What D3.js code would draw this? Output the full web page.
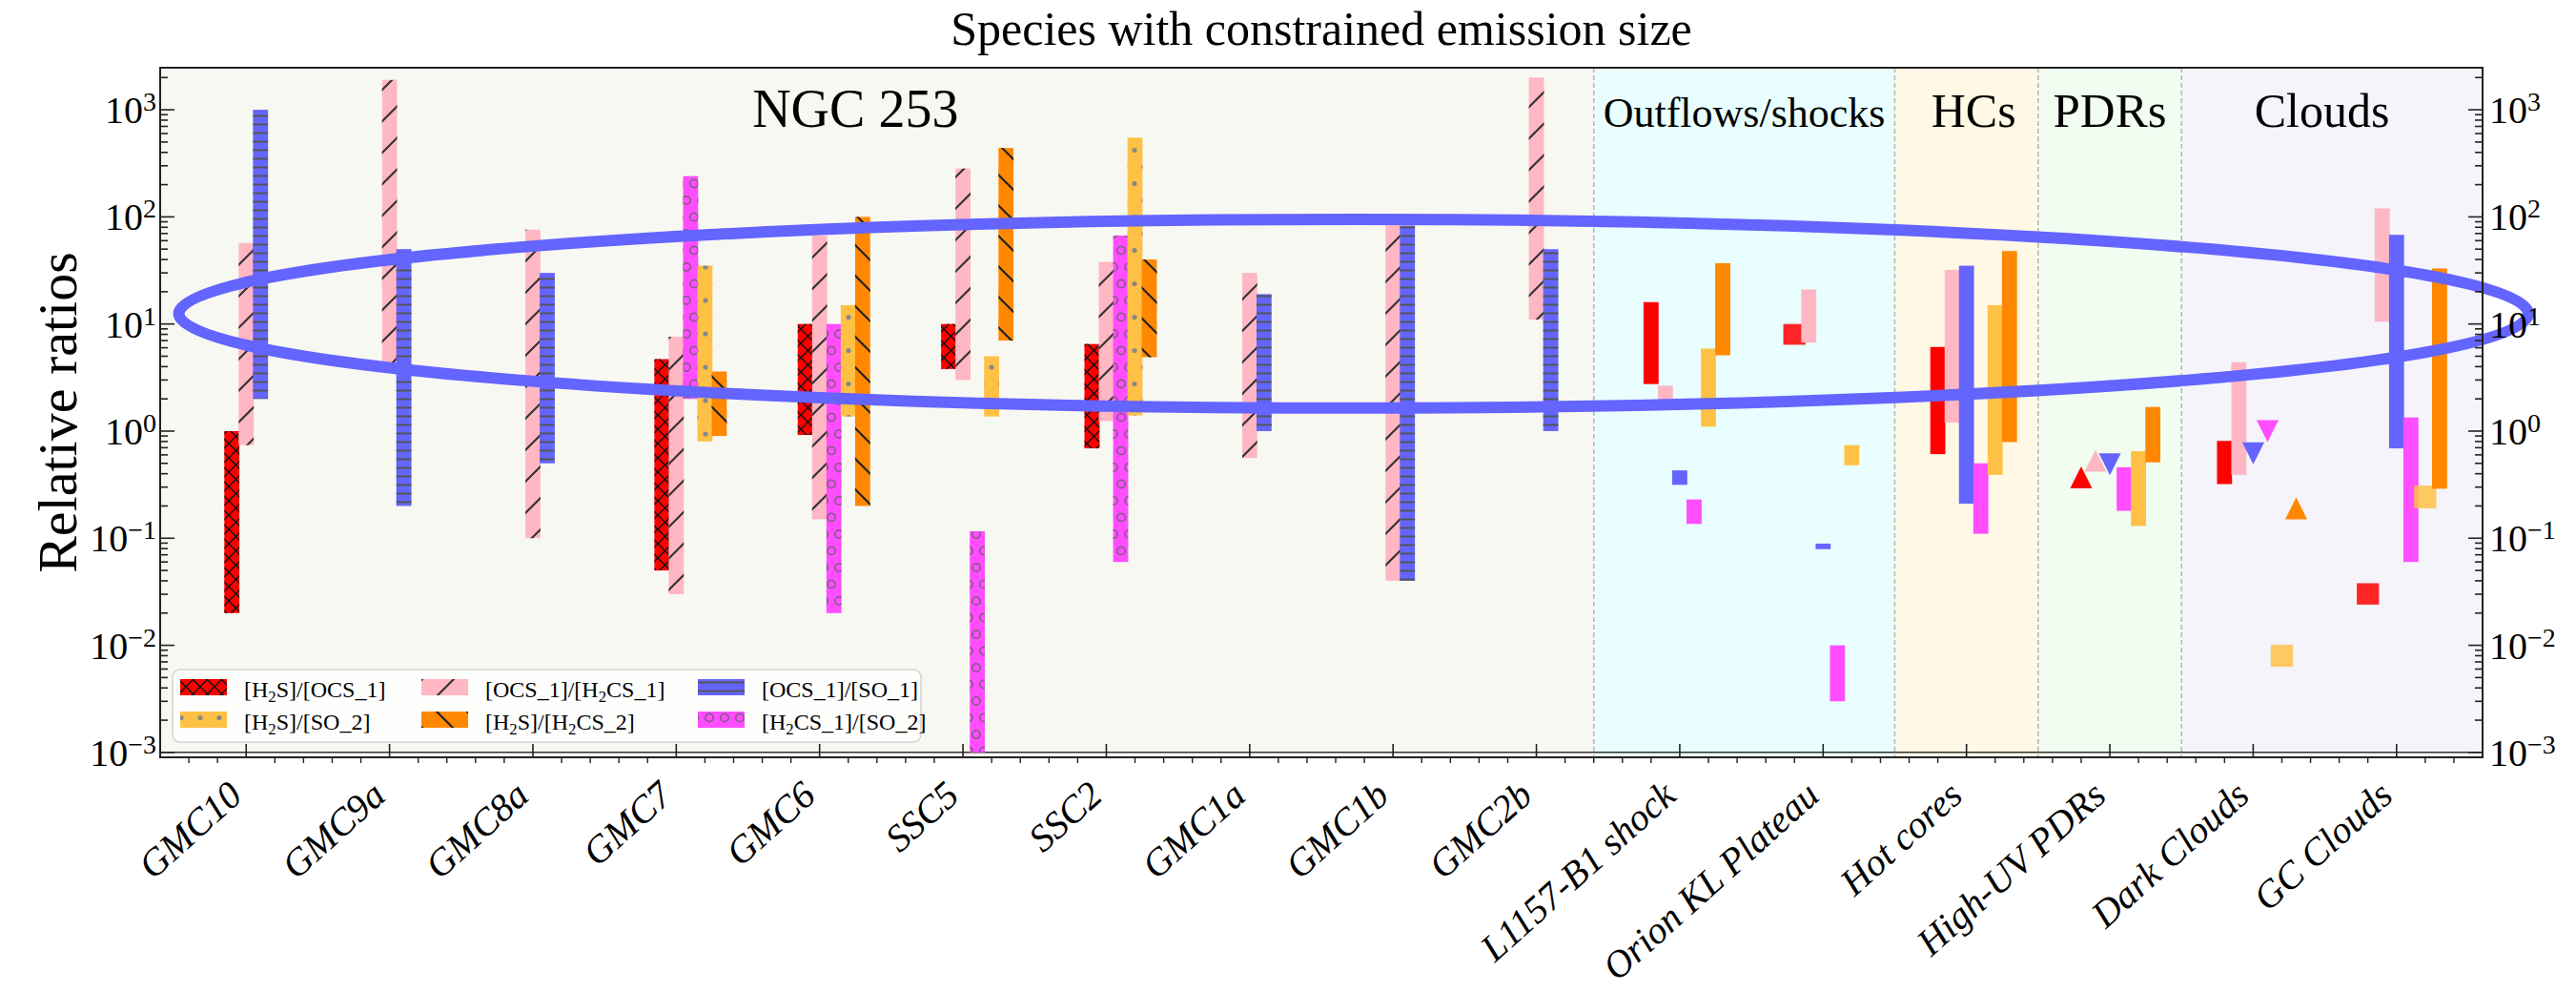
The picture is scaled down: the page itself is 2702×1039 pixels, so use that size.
<!DOCTYPE html>
<html>
<head>
<meta charset="utf-8">
<script src="https://cdn.jsdelivr.net/npm/d3@7"></script>
<style>
body{margin:0;background:#fff;}
svg text{font-family:"Liberation Serif","DejaVu Serif",serif;fill:#000;}
</style>
</head>
<body>
<svg id="chart" width="2702" height="1039"></svg>
<script>
var categories = ["GMC10", "GMC9a", "GMC8a", "GMC7", "GMC6", "SSC5", "SSC2", "GMC1a", "GMC1b", "GMC2b",
	"L1157-B1 shock", "Orion KL Plateau", "Hot cores", "High-UV PDRs", "Dark Clouds", "GC Clouds"];

// [category, low, high, kind]; kind: range bar, point box, lower limit (up triangle), upper limit (down triangle)
var h2sOcs = [
	["GMC10", 0.02, 1.0, "range"],
	["GMC7", 0.05, 4.7, "range"],
	["GMC6", 0.92, 10, "range"],
	["SSC5", 3.8, 10, "range"],
	["SSC2", 0.69, 6.5, "range"],
	["L1157-B1 shock", 2.75, 16, "range"],
	["Orion KL Plateau", 6.4, 10, "point"],
	["Hot cores", 0.61, 6.1, "range"],
	["High-UV PDRs", 0.37, 0.37, "lower"],
	["Dark Clouds", 0.32, 0.81, "range"],
	["GC Clouds", 0.024, 0.038, "point"]
];
var ocsH2cs = [
	["GMC10", 0.74, 57, "range"],
	["GMC9a", 4, 1900, "range"],
	["GMC8a", 0.1, 76, "range"],
	["GMC7", 0.03, 7.6, "range"],
	["GMC6", 0.15, 67, "range"],
	["SSC5", 3, 283, "range"],
	["SSC2", 1.24, 38, "range"],
	["GMC1a", 0.56, 30, "range"],
	["GMC1b", 0.04, 85, "range"],
	["GMC2b", 11, 2000, "range"],
	["L1157-B1 shock", 1.93, 2.66, "range"],
	["Orion KL Plateau", 6.7, 21, "range"],
	["Hot cores", 1.2, 32, "range"],
	["High-UV PDRs", 0.53, 0.53, "lower"],
	["Dark Clouds", 0.39, 4.4, "range"],
	["GC Clouds", 10.5, 120, "range"]
];
var ocsSo = [
	["GMC10", 2, 1000, "range"],
	["GMC9a", 0.2, 50, "range"],
	["GMC8a", 0.5, 30, "range"],
	["GMC1a", 1, 19, "range"],
	["GMC1b", 0.04, 83, "range"],
	["GMC2b", 1, 50, "range"],
	["L1157-B1 shock", 0.315, 0.43, "range"],
	["Orion KL Plateau", 0.079, 0.089, "range"],
	["Hot cores", 0.21, 35, "range"],
	["High-UV PDRs", 0.49, 0.49, "upper"],
	["Dark Clouds", 0.62, 0.62, "upper"],
	["GC Clouds", 0.69, 68, "range"]
];
var h2csSo = [
	["GMC7", 2, 240, "range"],
	["GMC6", 0.02, 10, "range"],
	["SSC5", 0.001, 0.116, "range"],
	["SSC2", 0.06, 67, "range"],
	["L1157-B1 shock", 0.136, 0.23, "range"],
	["Orion KL Plateau", 0.003, 0.01, "range"],
	["Hot cores", 0.11, 0.5, "range"],
	["High-UV PDRs", 0.18, 0.46, "range"],
	["Dark Clouds", 1.0, 1.0, "upper"],
	["GC Clouds", 0.06, 1.34, "range"]
];
var h2sSo = [
	["GMC7", 0.8, 35, "range"],
	["GMC6", 1.37, 15, "range"],
	["SSC5", 1.37, 5, "range"],
	["SSC2", 1.4, 550, "range"],
	["L1157-B1 shock", 1.1, 5.9, "range"],
	["Orion KL Plateau", 0.48, 0.74, "range"],
	["Hot cores", 0.39, 15, "range"],
	["High-UV PDRs", 0.13, 0.65, "range"],
	["Dark Clouds", 0.0063, 0.0101, "point"],
	["GC Clouds", 0.19, 0.31, "point"]
];
var h2sH2cs = [
	["GMC7", 0.9, 3.6, "range"],
	["GMC6", 0.2, 100, "range"],
	["SSC5", 7, 440, "range"],
	["SSC2", 4.9, 40, "range"],
	["L1157-B1 shock", 5.1, 37, "range"],
	["Hot cores", 0.79, 48, "range"],
	["High-UV PDRs", 0.51, 1.68, "range"],
	["Dark Clouds", 0.19, 0.19, "lower"],
	["GC Clouds", 0.29, 33, "range"]
];

// legend order (matplotlib fills the 3 columns top to bottom)
var seriesKeys = ["h2sOcs", "h2sSo", "ocsH2cs", "h2sH2cs", "ocsSo", "h2csSo"];
var seriesLabels = ["[H{2}S]/[OCS_1]", "[H{2}S]/[SO_2]", "[OCS_1]/[H{2}CS_1]", "[H{2}S]/[H{2}CS_2]", "[OCS_1]/[SO_1]", "[H{2}CS_1]/[SO_2]"];
var seriesData = {h2sOcs: h2sOcs, h2sSo: h2sSo, ocsH2cs: ocsH2cs, h2sH2cs: h2sH2cs, ocsSo: ocsSo, h2csSo: h2csSo};

var regionNames = ["NGC 253", "Outflows/shocks", "HCs", "PDRs", "Clouds"];
var regionEdges = [-0.6, 9.4, 11.5, 12.5, 13.5, 15.6];
var regionLabelAt = [4.25, 10.45, 12.05, 13.0, 14.48];

// highlighted band drawn over the chart: category span and ratio span
var ellipseSpan = [-0.47, 15.92];
var ellipseRange = [1.64, 95];

var yTickExp = [-3, -2, -1, 0, 1, 2, 3];

// styles
var seriesColor = {h2sOcs: "#ff0000", h2sSo: "#ffc145", ocsH2cs: "#ffb7c3", h2sH2cs: "#ff8800", ocsSo: "#6464ff", h2csSo: "#ff4dff"};
var seriesHatch = {h2sOcs: "cross", h2sSo: "dots", ocsH2cs: "slash", h2sH2cs: "back", ocsSo: "hline", h2csSo: "rings"};
var regionColor = ["#f8f8f2", "#e9fefe", "#fef8e5", "#f1fdf1", "#f5f4fa"];
var regionFont = [56, 44, 50, 51, 50];
var drawOrder = ["h2sOcs", "ocsH2cs", "ocsSo", "h2csSo", "h2sSo", "h2sH2cs"];
var offsetNGC = {h2sOcs: -0.1, ocsH2cs: 0, ocsSo: 0.1, h2csSo: 0.1, h2sSo: 0.2, h2sH2cs: 0.3};
var offsetRef = {h2sOcs: -0.2, ocsH2cs: -0.1, ocsSo: 0, h2csSo: 0.1, h2sSo: 0.2, h2sH2cs: 0.3};
var blue = "#6464ff";

var plot = {left: 168, right: 2604, top: 71, bottom: 794};
var svg = d3.select('#chart');
var x = d3.scaleLinear().domain([-0.6, 15.6]).range([plot.left, plot.right]);
var y = d3.scaleLog().domain([9e-4, 2470]).range([plot.bottom, plot.top]);

// hatch patterns
var defs = svg.append("defs");
function pattern(id, w, h){
	return defs.append("pattern").attr("id", id).attr("patternUnits", "userSpaceOnUse")
		.attr("width", w).attr("height", h);
}
pattern("cross", 15, 15).append("path").attr("d", "M0,0L15,15M15,0L0,15")
	.attr("stroke", "#111").attr("stroke-width", 1.4);
pattern("slash", 33, 33).append("path").attr("d", "M0,33L33,0M-4,4L4,-4M29,37L37,29")
	.attr("stroke", "#333").attr("stroke-width", 2.2);
pattern("back", 32, 32).append("path").attr("d", "M0,0L32,32M-4,28L4,36M28,-4L36,4")
	.attr("stroke", "#222").attr("stroke-width", 2.2);
pattern("hline", 10, 9).append("path").attr("d", "M0,4.5H10")
	.attr("stroke", "#555").attr("stroke-width", 2);
var pd = pattern("dots", 20, 35);
[[0, 0], [20, 0], [10, 17.5], [0, 35], [20, 35]].forEach(function(c){
	pd.append("circle").attr("cx", c[0]).attr("cy", c[1]).attr("r", 2.6).attr("fill", "#888");
});
var pr = pattern("rings", 16, 35);
[[0, 0], [16, 0], [8, 17.5], [0, 35], [16, 35]].forEach(function(c){
	pr.append("circle").attr("cx", c[0]).attr("cy", c[1]).attr("r", 4.2)
		.attr("fill", "none").attr("stroke", "#8c5a8c").attr("stroke-width", 1.8);
});
defs.append("clipPath").attr("id", "plotClip").append("rect")
	.attr("x", plot.left).attr("y", plot.top)
	.attr("width", plot.right - plot.left).attr("height", plot.bottom - plot.top);

// region backgrounds
regionNames.forEach(function(name, i){
	svg.append("rect")
		.attr("x", x(regionEdges[i])).attr("y", plot.top)
		.attr("width", x(regionEdges[i+1]) - x(regionEdges[i]))
		.attr("height", plot.bottom - plot.top)
		.attr("fill", regionColor[i]);
});
regionNames.forEach(function(name, i){
	if(i > 0){
		svg.append("line")
			.attr("x1", x(regionEdges[i])).attr("x2", x(regionEdges[i]))
			.attr("y1", plot.top).attr("y2", plot.bottom)
			.attr("stroke", "#b4b4b4").attr("stroke-width", 1.5).attr("stroke-dasharray", "5,3");
	}
	svg.append("text")
		.attr("x", x(regionLabelAt[i])).attr("y", plot.top + 62)
		.attr("text-anchor", "middle").attr("font-size", regionFont[i])
		.text(name);
});

// baseline at 1e-3
svg.append("line")
	.attr("x1", plot.left).attr("x2", plot.right)
	.attr("y1", y(1e-3)).attr("y2", y(1e-3))
	.attr("stroke", "#333").attr("stroke-width", 1.5);

// bars and limit markers
var barW = 0.105, pointW = 0.155, triSize = 23;
var marks = svg.append("g").attr("clip-path", "url(#plotClip)");
drawOrder.forEach(function(key){
	seriesData[key].forEach(function(d){
		var ci = categories.indexOf(d[0]);
		var ngc = ci < regionEdges[1];
		var cx = x(ci + (ngc ? offsetNGC[key] : offsetRef[key]));
		var kind = d[3];
		if(kind == "lower" || kind == "upper"){
			var s = triSize / 2, cy = y(d[1]);
			var path = kind == "lower"
				? "M0," + (-s) + "L" + s + "," + s + "L" + (-s) + "," + s + "Z"
				: "M0," + s + "L" + s + "," + (-s) + "L" + (-s) + "," + (-s) + "Z";
			marks.append("path").attr("d", path)
				.attr("transform", "translate(" + cx + "," + cy + ")")
				.attr("fill", seriesColor[key]);
			return;
		}
		var w = (kind == "point" ? pointW : barW) * (x(1) - x(0));
		var r = marks.append("rect")
			.attr("x", cx - w/2).attr("y", y(d[2]))
			.attr("width", w).attr("height", y(d[1]) - y(d[2]))
			.attr("fill", seriesColor[key]);
		if(kind == "point"){ r.attr("opacity", 0.85); }
		if(ngc){
			marks.append("rect")
				.attr("x", cx - w/2).attr("y", y(d[2]))
				.attr("width", w).attr("height", y(d[1]) - y(d[2]))
				.attr("fill", "url(#" + seriesHatch[key] + ")");
		}
	});
});

// highlight ellipse
svg.append("ellipse")
	.attr("cx", (x(ellipseSpan[0]) + x(ellipseSpan[1])) / 2)
	.attr("cy", (y(ellipseRange[0]) + y(ellipseRange[1])) / 2)
	.attr("rx", (x(ellipseSpan[1]) - x(ellipseSpan[0])) / 2)
	.attr("ry", (y(ellipseRange[0]) - y(ellipseRange[1])) / 2)
	.attr("fill", "none").attr("stroke", blue).attr("stroke-width", 12);

// spines
svg.append("rect")
	.attr("x", plot.left).attr("y", plot.top)
	.attr("width", plot.right - plot.left).attr("height", plot.bottom - plot.top)
	.attr("fill", "none").attr("stroke", "#222").attr("stroke-width", 2);

// y ticks, both sides, pointing inward
var axisG = svg.append("g").attr("stroke", "#222");
y.ticks().forEach(function(v){
	var major = Math.abs(Math.log10(v) - Math.round(Math.log10(v))) < 1e-9;
	var len = major ? 15 : 8;
	axisG.append("line").attr("x1", plot.left).attr("x2", plot.left + len)
		.attr("y1", y(v)).attr("y2", y(v)).attr("stroke-width", 1.6);
	axisG.append("line").attr("x1", plot.right).attr("x2", plot.right - len)
		.attr("y1", y(v)).attr("y2", y(v)).attr("stroke-width", 1.6);
});
function powerLabel(xPos, yPos, anchor, e){
	var t = svg.append("text").attr("x", xPos).attr("y", yPos + 14)
		.attr("text-anchor", anchor).attr("font-size", 40);
	t.append("tspan").text("10");
	t.append("tspan").attr("dy", -13).attr("font-size", 28).text(String(e).replace("-", "\u2212"));
}
yTickExp.forEach(function(e){
	powerLabel(plot.left - 4, y(Math.pow(10, e)), "end", e);
	powerLabel(plot.right + 7, y(Math.pow(10, e)), "start", e);
});

// x ticks: majors inward, minors outward every 0.2
categories.forEach(function(c, i){
	axisG.append("line").attr("x1", x(i)).attr("x2", x(i))
		.attr("y1", plot.bottom).attr("y2", plot.bottom - 14).attr("stroke-width", 1.6);
	svg.append("text")
		.attr("transform", "translate(" + (x(i) - 2) + "," + (plot.bottom + 43) + ") rotate(-42)")
		.attr("text-anchor", "end").attr("font-size", 40).attr("font-style", "italic")
		.text(c);
});
d3.range(-2, 78).forEach(function(k){
	if(k % 5 == 0) return;
	var v = k * 0.2;
	axisG.append("line").attr("x1", x(v)).attr("x2", x(v))
		.attr("y1", plot.bottom).attr("y2", plot.bottom + 6).attr("stroke-width", 1.4);
});

// titles
svg.append("text").attr("x", (plot.left + plot.right) / 2).attr("y", 47)
	.attr("text-anchor", "middle").attr("font-size", 50)
	.text("Species with constrained emission size");
svg.append("text")
	.attr("transform", "translate(80," + ((plot.top + plot.bottom) / 2) + ") rotate(-90)")
	.attr("text-anchor", "middle").attr("font-size", 58)
	.text("Relative ratios");

// legend
function richText(sel, str, size){
	var parts = str.split(/\{([^}]*)\}/);
	var shifted = false;
	parts.forEach(function(p, i){
		if(i % 2 == 1){
			sel.append("tspan").attr("dy", size * 0.22).attr("font-size", size * 0.7).text(p);
			shifted = true;
		}else if(p.length){
			sel.append("tspan").attr("dy", shifted ? -size * 0.22 : 0).text(p);
			shifted = false;
		}
	});
}
var legend = svg.append("g");
legend.append("rect").attr("x", 181).attr("y", 702).attr("width", 785).attr("height", 76)
	.attr("rx", 8).attr("fill", "#ffffff").attr("fill-opacity", 0.8)
	.attr("stroke", "#d2d2d2").attr("stroke-width", 1.5);
var legendCols = [189, 442, 732], legendRows = [712, 746];
seriesKeys.forEach(function(key, i){
	var lx = legendCols[Math.floor(i / 2)], ly = legendRows[i % 2];
	legend.append("rect").attr("x", lx).attr("y", ly).attr("width", 49).attr("height", 17)
		.attr("fill", seriesColor[key]);
	legend.append("rect").attr("x", lx).attr("y", ly).attr("width", 49).attr("height", 17)
		.attr("fill", "url(#" + seriesHatch[key] + ")");
	var t = legend.append("text").attr("x", lx + 67).attr("y", ly + 19).attr("font-size", 24);
	richText(t, seriesLabels[i], 24);
});
</script>
</body>
</html>
